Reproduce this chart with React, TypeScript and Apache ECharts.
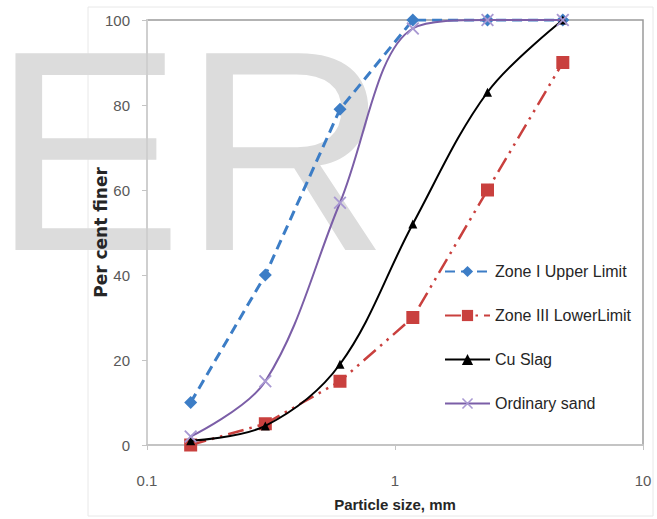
import React, { useEffect, useRef } from "react";
import * as echarts from "echarts";

const sizes = [0.15, 0.3, 0.6, 1.18, 2.36, 4.75];
const zoneIUpper = [10, 40, 79, 100, 100, 100];
const zoneIIILower = [0, 5, 15, 30, 60, 90];
const cuSlag = [1, 4.5, 19, 52, 83, 100];
const ordinarySand = [2, 15, 57, 98, 100, 100];
const seriesNames = ["Zone I Upper Limit", "Zone III LowerLimit", "Cu Slag", "Ordinary sand"];
const yTicks = { min: 0, max: 100, interval: 20 };
const xRange = { min: 0.1, max: 10 };

const SANS = '"Liberation Sans", Arial, sans-serif';

const pair = (vals: number[]) => sizes.map((s, i) => [s, vals[i]]);

export default function App() {
  const ref = useRef<HTMLDivElement>(null);
  useEffect(() => {
    if (!ref.current) return;
    const chart = echarts.init(ref.current, undefined, { renderer: "svg" });
    const xPath = "path://M1,0L5,4L9,0L10,1L6,5L10,9L9,10L5,6L1,10L0,9L4,5L0,1Z";
    chart.setOption({
      animation: false,
      backgroundColor: "#ffffff",
      graphic: [
        {
          type: "rect",
          z: -2,
          silent: true,
          shape: { x: 88, y: 7, width: 565, height: 509 },
          style: { fill: "none", stroke: "#e8e8e8", lineWidth: 1 },
        },
        {
          type: "text",
          z: -1,
          silent: true,
          style: {
            text: "ER",
            x: -8,
            y: 151,
            align: "left",
            verticalAlign: "middle",
            font: '286px "Liberation Sans", Arial, sans-serif',
            fill: "#dcdcdc",
          },
        },
      ],
      grid: {
        left: 147,
        right: 14,
        top: 20,
        bottom: 74,
        show: true,
        borderColor: "#9a9a9a",
        borderWidth: 1.5,
        backgroundColor: "transparent",
      },
      legend: {
        orient: "vertical",
        left: 439,
        top: 257,
        itemWidth: 45,
        itemHeight: 14,
        itemGap: 25,
        data: seriesNames,
        textStyle: { fontFamily: SANS, fontSize: 16, color: "#262626", lineHeight: 19 },
      },
      xAxis: {
        type: "log",
        logBase: 10,
        min: xRange.min,
        max: xRange.max,
        name: "Particle size, mm",
        nameLocation: "middle",
        nameGap: 52,
        nameMoveOverlap: false,
        nameTextStyle: { fontFamily: SANS, fontSize: 15, fontWeight: "bold", color: "#262626" },
        axisLine: { show: true, lineStyle: { color: "#c4c4c4", width: 2 } },
        axisTick: { show: true, length: 5, lineStyle: { color: "#c4c4c4" } },
        minorTick: { show: false },
        splitLine: { show: false },
        axisLabel: {
          fontFamily: SANS,
          fontSize: 15,
          color: "#595959",
          margin: 28,
          formatter: (v: number) => String(Number(v.toPrecision(2))),
        },
      },
      yAxis: {
        type: "value",
        min: yTicks.min,
        max: yTicks.max,
        interval: yTicks.interval,
        name: "Per cent finer",
        nameLocation: "middle",
        nameGap: 38,
        nameMoveOverlap: false,
        nameTextStyle: { fontFamily: '"DejaVu Sans", sans-serif', fontSize: 17, fontWeight: "bold", color: "#262626" },
        axisLine: { show: true, lineStyle: { color: "#cfcfcf", width: 2 } },
        axisTick: { show: true, length: 5, lineStyle: { color: "#c4c4c4" } },
        splitLine: { show: false },
        axisLabel: { fontFamily: SANS, fontSize: 15, color: "#595959", margin: 17 },
      },
      series: [
        {
          name: seriesNames[0],
          type: "line",
          data: pair(zoneIUpper),
          symbol: "diamond",
          symbolSize: 13,
          itemStyle: { color: "#3c7dc6" },
          lineStyle: { color: "#3c7dc6", width: 3, type: [10, 6] },
          z: 3,
        },
        {
          name: seriesNames[1],
          type: "line",
          data: pair(zoneIIILower),
          symbol: "rect",
          symbolSize: 13,
          itemStyle: { color: "#c9403e" },
          lineStyle: { color: "#c9403e", width: 2.5, type: [16, 6, 2.5, 6, 2.5, 6] },
          z: 3,
        },
        {
          name: seriesNames[2],
          type: "line",
          data: pair(cuSlag),
          smooth: 0.35,
          symbol: "triangle",
          symbolSize: 9,
          itemStyle: { color: "#000000" },
          lineStyle: { color: "#000000", width: 2 },
          z: 4,
        },
        {
          name: seriesNames[3],
          type: "line",
          data: pair(ordinarySand),
          smooth: 0.35,
          symbol: xPath,
          symbolSize: 13,
          itemStyle: { color: "#a898d2" },
          lineStyle: { color: "#7b5ea7", width: 2 },
          z: 4,
        },
      ],
    });
    return () => chart.dispose();
  }, []);
  return <div ref={ref} style={{ width: 657, height: 519, position: "absolute", left: 0, top: 0 }} />;
}
